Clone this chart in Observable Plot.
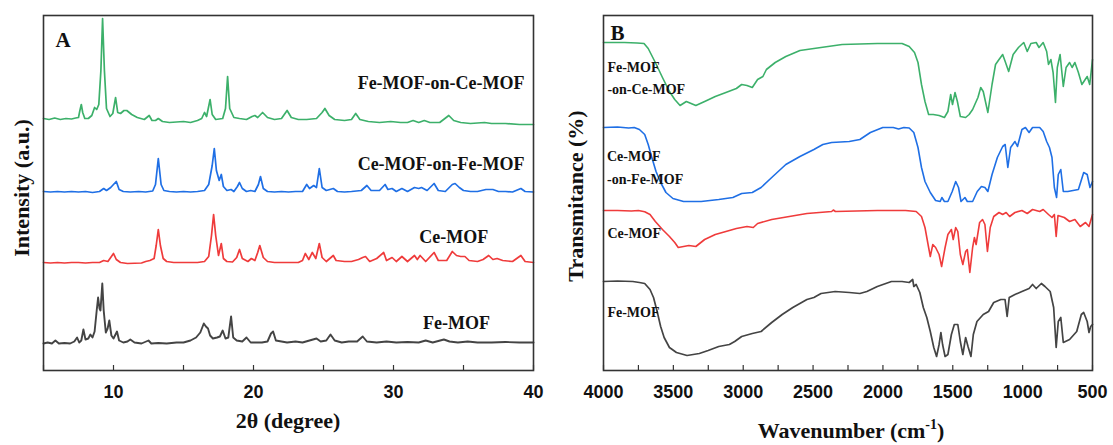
<!DOCTYPE html>
<html><head><meta charset="utf-8">
<script src="https://cdn.jsdelivr.net/npm/d3@7"></script>
<script src="https://cdn.jsdelivr.net/npm/@observablehq/plot@0.6"></script>
<style>
html,body{margin:0;padding:0;background:#fff;}
#wrap{position:relative;width:1113px;height:445px;overflow:hidden;background:#fff;}
#a{position:absolute;left:0;top:0;}
#b{position:absolute;left:556px;top:0;}
</style></head><body><div id="wrap"><div id="a"></div><div id="b"></div></div>
<script>
// ---------- Panel A : XRD ----------
const xrdSeries = ["Fe-MOF-on-Ce-MOF", "Ce-MOF-on-Fe-MOF", "Ce-MOF", "Fe-MOF"];
const seriesColors = ["#3cb06a", "#1f6fe5", "#ef3b3b", "#444444"];

const xrdFeOnCe = [[5,252],[5.4,251],[5.8,252.5],[6.2,251],[6.6,252],[7.0,251.5],[7.3,252.5],[7.5,253],[7.6,260],[7.7,266],[7.8,258],[7.95,252],[8.2,252],[8.45,255],[8.65,263],[8.8,261],[8.95,266],[9.1,300],[9.22,352],[9.35,300],[9.5,262],[9.75,254],[9.95,257],[10.15,273],[10.3,258],[10.5,257],[10.75,260],[10.95,260],[11.3,256],[11.7,253],[12.2,251],[12.55,255],[12.75,250],[13.0,250],[13.2,252],[13.5,249],[14.0,248],[14.5,248.5],[15.0,249],[15.5,248],[16.0,250],[16.3,252],[16.5,258],[16.65,254],[16.9,271],[17.05,256],[17.3,251],[17.8,252],[18.0,262],[18.15,294],[18.3,262],[18.6,253],[19.0,252],[19.5,251],[19.9,254],[20.1,255],[20.3,253],[20.65,258],[21.0,253],[21.5,251],[22.0,252],[22.4,260],[22.7,253],[23.2,251],[23.8,251],[24.5,252],[24.9,258],[25.1,262],[25.4,255],[25.8,251],[26.5,250],[27.0,251],[27.3,257],[27.6,251],[28.2,249],[29.0,248],[29.8,249],[30.5,248],[31.0,248],[31.4,250],[31.8,248],[32.2,250],[32.6,248],[33.3,248],[33.95,255],[34.3,250],[34.8,248],[35.5,247],[36.5,248],[37.0,247],[38.0,247],[39.0,246],[40,246]];

const xrdCeOnFe = [[5,179],[5.5,178.5],[6,179],[6.5,178.5],[7,179],[7.5,178.5],[8,179],[8.5,178],[9.0,179],[9.3,182],[9.5,180],[9.8,183],[10.0,186],[10.2,189],[10.4,181],[10.7,179],[11.2,178.5],[11.8,179],[12.3,178.5],[12.8,179.5],[13.0,186],[13.2,212],[13.4,186],[13.6,180],[14.0,179],[14.5,178.5],[15,179],[15.5,178.5],[16.0,179],[16.5,180],[16.8,186],[17.05,205],[17.2,222],[17.35,200],[17.55,190],[17.7,196],[17.85,184],[18.1,180],[18.4,181],[18.6,179],[18.85,184],[19.0,188],[19.2,182],[19.5,179],[19.8,180],[20.1,179],[20.35,186],[20.5,194],[20.7,182],[21.0,179],[21.5,178.5],[22,179],[22.5,178.5],[23,179],[23.5,179],[23.8,186],[24.0,182],[24.3,185],[24.5,183],[24.7,202],[24.9,183],[25.2,180],[25.7,182],[26.0,179],[26.5,178.5],[27,179],[27.7,180],[28.1,185],[28.4,180],[29.0,180],[29.4,186],[29.6,181],[29.9,182],[30.2,179],[30.6,182],[31.0,179],[31.5,183],[31.8,182],[32.0,183],[32.4,180],[32.9,187],[33.2,180],[33.7,179],[34.2,186],[34.4,187],[34.7,183],[35.0,180],[35.5,179],[36.0,179],[36.6,181],[37.1,181],[37.5,179],[38,179],[38.5,178.5],[39.1,182],[39.4,179],[40,178.5]];

const xrdCe = [[5,108],[5.5,107.5],[6,108],[6.5,107.5],[7,108],[7.5,108],[8,107.5],[8.5,108],[9.0,108],[9.3,110],[9.6,109],[9.85,114],[10.0,117],[10.2,111],[10.5,108],[11,107],[12.0,107.5],[12.3,109],[12.6,110],[12.9,112],[13.05,125],[13.2,141],[13.35,125],[13.55,112],[13.8,109],[14.3,108],[15,108],[15.5,108],[16,108],[16.5,109],[16.8,114],[17.0,135],[17.15,156],[17.3,135],[17.5,115],[17.7,127],[17.85,112],[18.1,109],[18.5,108.5],[18.8,113],[19.0,121],[19.2,112],[19.6,109],[19.85,112],[20.1,110],[20.3,118],[20.45,125],[20.7,113],[21,109],[21.5,108],[22.5,108],[23.2,108],[23.5,110],[23.7,117],[23.95,111],[24.2,118],[24.45,112],[24.7,127],[24.9,113],[25.2,109],[25.7,115],[25.9,110],[26.5,109],[27,109],[27.5,111],[27.8,113],[28.0,114],[28.3,109],[28.8,112],[29.3,118],[29.5,110],[29.9,113],[30.2,109],[30.6,114],[31.0,109],[31.5,115],[31.7,111],[31.9,115],[32.3,109],[32.9,118],[33.2,110],[33.8,110],[34.2,119],[34.5,115],[34.8,114],[35.1,114],[35.4,110],[36.0,109],[36.4,111],[36.8,115],[37.1,111],[37.4,112],[37.8,110],[38.5,109],[39.1,115],[39.4,109],[40,108]];

const xrdFe = [[5,27],[5.3,28],[5.6,27],[5.85,30],[6.1,27],[6.5,27.5],[6.9,27],[7.2,29],[7.4,33],[7.55,28],[7.7,30],[7.85,41],[8.0,31],[8.2,32],[8.35,36],[8.5,33],[8.65,39],[8.8,60],[8.9,73],[9.0,62],[9.07,60],[9.2,87],[9.3,60],[9.45,38],[9.58,42],[9.7,50],[9.85,35],[10.0,32],[10.25,39],[10.4,30],[10.7,28],[11.0,29],[11.2,31],[11.5,28],[12.0,27],[12.5,30],[12.7,27],[13.2,27.5],[13.8,27],[14.5,28],[15.0,28],[15.5,30],[15.9,33],[16.2,38],[16.45,47],[16.6,44],[16.75,42],[16.9,35],[17.1,32],[17.4,33],[17.6,34],[17.8,40],[18.0,32],[18.2,33],[18.4,54],[18.55,33],[18.8,30],[19.2,29],[19.5,33],[19.8,28],[20.2,28],[20.6,28],[21.0,29],[21.25,37],[21.4,39],[21.6,30],[22.0,29],[22.4,28],[23.0,29],[23.5,28],[24.0,30],[24.5,32],[24.8,29],[25.2,30],[25.5,36],[25.8,30],[26.3,28],[26.8,29],[27.4,29],[27.8,34],[28.1,29],[28.8,28],[29.5,29],[30.2,28],[31.0,28.5],[31.8,28],[32.3,30],[32.8,28],[33.6,31],[34.0,29],[34.6,28],[35.3,29],[36.0,28],[37.0,28],[38.0,28.5],[39.0,28],[40,28]];

const xrdData = [xrdFeOnCe, xrdCeOnFe, xrdCe, xrdFe];
const xrdTicks = [5,10,15,20,25,30,35,40];
const xrdTickLabels = [10,20,30,40];
const xrdLabels = [
  {t:"Fe-MOF-on-Ce-MOF", x:33.4, y:287},
  {t:"Ce-MOF-on-Fe-MOF", x:33.4, y:206},
  {t:"Ce-MOF", x:34.3, y:133},
  {t:"Fe-MOF", x:34.5, y:47}
];

// ---------- Panel B : FTIR ----------
const ftirFeOnCe = [[4000,328],[3850,328],[3760,327.5],[3710,327],[3680,322],[3629,308],[3578,293],[3528,279],[3490,271],[3452,265],[3407,269],[3339,265],[3276,269],[3200,274],[3124,278],[3049,282],[3011,286],[2973,285],[2935,283],[2897,291],[2859,294],[2834,301],[2771,308],[2695,314],[2594,320],[2494,322],[2292,326],[2040,327],[1863,327],[1812,324],[1774,318],[1749,308],[1724,286],[1699,269],[1673,256],[1640,256],[1598,255],[1560,253],[1535,259],[1515,276],[1502,266],[1484,278],[1467,269],[1446,254],[1408,253],[1383,256],[1358,261],[1320,273],[1300,283],[1282,279],[1249,258],[1219,286],[1194,306],[1169,311],[1143,316],[1125,309],[1100,299],[1068,316],[1030,323],[992,328],[967,319],[941,327],[903,328],[883,323],[853,328],[828,319],[815,306],[798,311],[782,298],[765,268],[752,303],[732,316],[709,284],[689,303],[664,308],[646,303],[626,308],[601,298],[576,286],[538,294],[520,286],[500,311]];

const ftirCeOnFe = [[4000,243],[3900,243.5],[3820,242.5],[3780,243],[3743,241],[3705,236],[3680,226],[3654,213],[3624,199],[3591,188],[3553,178],[3503,172],[3427,169],[3301,169],[3175,171],[3074,173],[3011,177],[2935,178],[2872,183],[2796,193],[2695,206],[2594,214],[2494,221],[2430,226],[2367,228],[2241,229],[2165,231],[2090,238],[2001,243],[1926,243],[1888,241.5],[1850,243],[1812,242.5],[1779,238],[1749,223],[1724,203],[1699,189],[1661,178],[1623,170],[1590,169],[1578,173],[1560,169],[1535,169],[1504,179],[1479,189],[1459,183],[1441,169],[1413,173],[1396,169],[1358,169],[1325,179],[1295,184],[1270,183],[1249,179],[1219,196],[1181,213],[1143,224],[1125,226],[1106,203],[1086,223],[1055,229],[1037,224],[1005,241],[980,243],[954,238],[929,243],[878,243],[853,239],[828,229],[808,223],[790,213],[773,183],[757,173],[745,196],[727,201],[709,179],[677,179],[601,181],[563,198],[538,196],[518,183],[500,189]];

const ftirCe = [[4000,160],[3900,160],[3800,159.5],[3750,160],[3705,158.7],[3667,156],[3629,149],[3578,141],[3528,134],[3490,128],[3465,123],[3427,124],[3389,125],[3339,124],[3276,131],[3200,136],[3124,139],[3049,142],[2973,144],[2928,143],[2897,147],[2796,151],[2670,154],[2544,157],[2367,159],[2355,160.5],[2340,159],[2040,160],[1838,160],[1762,159],[1724,154],[1699,143],[1673,123],[1661,114],[1643,126],[1623,123],[1598,116],[1580,104],[1555,123],[1535,136],[1510,141],[1497,131],[1479,143],[1464,139],[1446,116],[1428,106],[1408,119],[1396,121],[1378,98],[1358,123],[1345,133],[1333,126],[1308,148],[1287,151],[1270,146],[1252,119],[1232,143],[1207,154],[1169,158],[1143,156],[1118,158],[1093,154],[1055,158],[1005,160],[967,157],[929,161],[878,159],[853,161],[815,156],[790,153],[773,156],[760,134],[747,155],[702,153],[664,149],[626,151],[588,144],[550,148],[525,144],[500,156]];

const ftirFe = [[4000,89],[3900,89.5],[3790,89],[3743,88],[3705,87],[3667,81],[3642,73],[3616,59],[3591,44],[3566,33],[3528,23],[3478,18],[3402,15],[3314,17],[3251,20],[3175,24],[3099,26],[3061,29],[3011,34],[2935,37],[2872,39],[2796,48],[2721,56],[2645,63],[2544,71],[2494,73],[2443,77],[2342,79],[2241,78],[2165,77],[2115,79],[2040,84],[1939,89],[1863,89],[1812,88],[1787,91],[1779,84],[1762,86],[1736,78],[1711,63],[1686,53],[1661,39],[1636,23],[1616,14],[1598,26],[1585,38],[1573,26],[1555,14],[1535,16],[1510,36],[1489,46],[1464,46],[1446,29],[1428,16],[1408,33],[1391,24],[1370,14],[1353,36],[1327,49],[1282,56],[1244,59],[1207,68],[1156,71],[1126,71],[1111,54],[1096,73],[1055,76],[1005,79],[954,82],[929,86],[903,82],[866,87],[840,84],[803,79],[778,63],[760,23],[745,49],[727,53],[709,28],[664,31],[613,39],[580,56],[563,58],[538,49],[525,38],[513,44],[500,46]];

const ftirData = [ftirFeOnCe, ftirCeOnFe, ftirCe, ftirFe];
const ftirTicks = [4000,3750,3500,3250,3000,2750,2500,2250,2000,1750,1500,1250,1000,750,500];
const ftirTickLabels = [4000,3500,3000,2500,2000,1500,1000,500];
const ftirLabels = [
  {t:"Fe-MOF", x:3972, y:303},
  {t:"-on-Ce-MOF", x:3972, y:281},
  {t:"Ce-MOF", x:3975, y:214},
  {t:"-on-Fe-MOF", x:3975, y:191},
  {t:"Ce-MOF", x:3972, y:137},
  {t:"Fe-MOF", x:3972, y:58}
];

// ---------- drawing ----------
const serif = "'Liberation Serif','Times New Roman',serif";
const sans = "'Liberation Sans',Arial,sans-serif";
const frameColor = "#333";

function panel(opts) {
  return Plot.plot({
    width: opts.width, height: 445,
    marginLeft: opts.ml, marginRight: opts.mr, marginTop: 15, marginBottom: 75,
    x: {domain: opts.xdomain, axis: null},
    y: {domain: [0, 355], axis: null},
    style: {fontFamily: serif, background: "transparent", overflow: "visible"},
    marks: [
      ...opts.data.map((pts, i) => Plot.line(pts, {x: d => d[0], y: d => d[1], stroke: seriesColors[i], strokeWidth: opts.sw[i], strokeLinejoin: "round"})),
      Plot.ruleX(opts.ticks, {y1: 0, y2: 5, stroke: frameColor, strokeWidth: 1.2}),
      Plot.axisX({ticks: opts.tickLabels, tickFormat: d => String(d), tickSize: 0, tickPadding: 15, fontSize: 18, fontWeight: "bold", fontFamily: sans, fill: "#111", label: null}),
      Plot.frame({stroke: frameColor, strokeWidth: 1.6}),
      Plot.text(opts.labels, {x: "x", y: "y", text: "t", fontSize: opts.labelSize, fontWeight: "bold", fontFamily: serif, fill: "#111", textAnchor: opts.labelAnchor}),
      Plot.text([opts.letter], {text: d => d, frameAnchor: "top-left", dx: opts.ldx, dy: opts.ldy, fontSize: 21, fontWeight: "bold", fontFamily: serif, fill: "#111"})
    ]
  });
}

const A = panel({width: 556, ml: 43, mr: 23, xdomain: [5, 40], data: xrdData, sw: [1.7, 1.7, 1.7, 1.9],
  ticks: xrdTicks, tickLabels: xrdTickLabels, labels: xrdLabels, labelSize: 18, labelAnchor: "middle",
  letter: "A", ldx: 12, ldy: 17});
const B = panel({width: 557, ml: 47, mr: 21, xdomain: [4000, 500], data: ftirData, sw: [1.6, 1.6, 1.6, 1.7],
  ticks: ftirTicks, tickLabels: ftirTickLabels, labels: ftirLabels, labelSize: 14, labelAnchor: "start",
  letter: "B", ldx: 7, ldy: 10});

document.getElementById("a").appendChild(A);
document.getElementById("b").appendChild(B);

function title(svg, x, y, rot, parts) {
  const t = d3.select(svg).append("text")
    .attr("x", x).attr("y", y)
    .attr("text-anchor", "middle")
    .attr("font-family", serif).attr("font-weight", "bold").attr("font-size", 22)
    .attr("fill", "#111");
  if (rot) t.attr("transform", `rotate(-90 ${x} ${y})`);
  parts.forEach(p => {
    const s = t.append("tspan").text(p.text);
    if (p.sup) s.attr("font-size", 14).attr("dy", -9);
    if (p.after) s.attr("dy", 9);
  });
}
title(A, 288, 428, false, [{text: "2θ (degree)"}]);
title(A, 29, 188, true, [{text: "Intensity (a.u.)"}]);
title(B, 295, 438, false, [{text: "Wavenumber (cm"}, {text: "-1", sup: true}, {text: ")", after: true}]);
title(B, 27, 196, true, [{text: "Transmitance (%)"}]);
</script></body></html>
